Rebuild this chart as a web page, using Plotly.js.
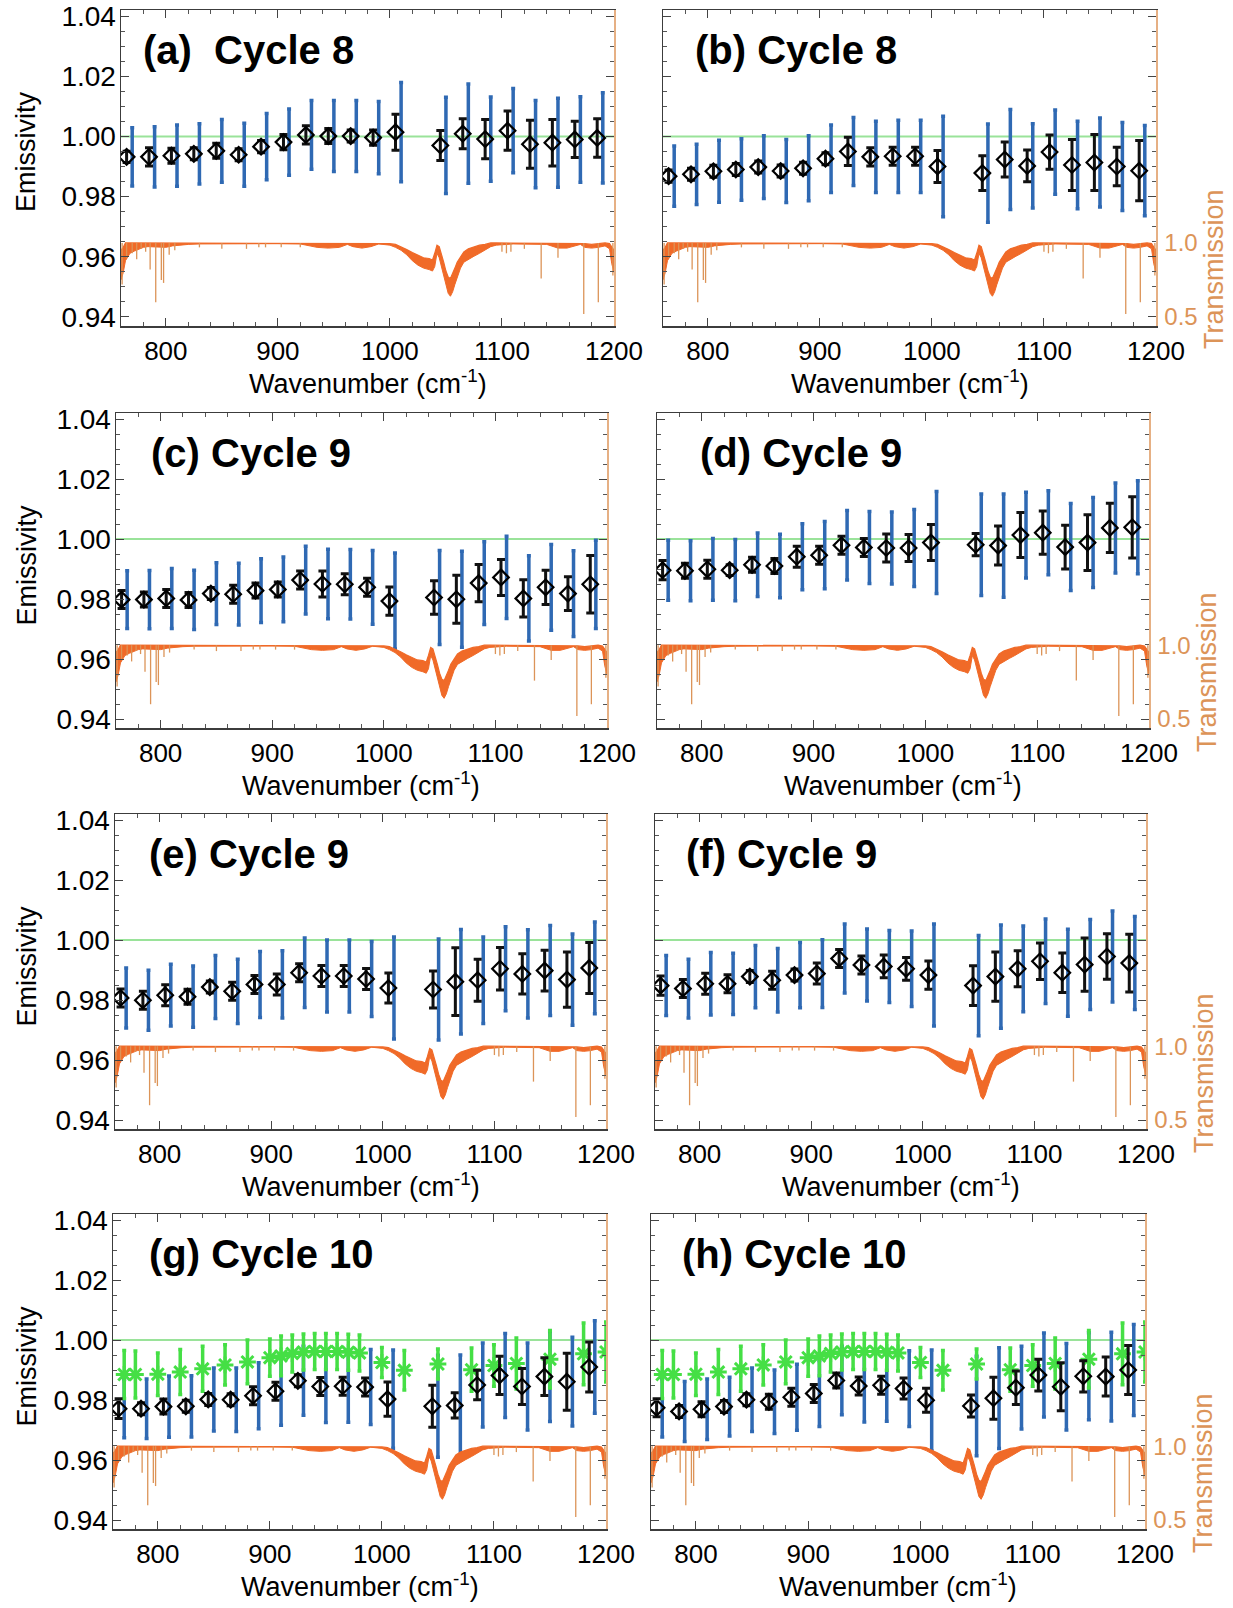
<!DOCTYPE html>
<html>
<head>
<meta charset="utf-8">
<script src="https://cdn.plot.ly/plotly-3.0.1.min.js"></script>
<style>
  html, body { margin: 0; padding: 0; background: #fff; }
  #chart { width: 1233px; height: 1608px; }
</style>
</head>
<body>
<div id="chart"></div>
<script>
// Retrieval wavenumbers (cm-1)
const wn = [765,785,805,825,845,865,885,905,925,945,965,985,1005,1045,1065,1085,1105,1125,1145,1165,1185];

// Retrieved emissivity, standard deviation (black) and total uncertainty (blue) per panel
const emisA = [0.9932,0.9932,0.9936,0.9942,0.9952,0.9939,0.9966,0.9981,1.0005,1.0001,1.0001,0.9996,1.0014,0.9970,1.0009,0.9991,1.0019,0.9974,0.9979,0.9990,0.9995];
const sdA   = [0.0019,0.0030,0.0025,0.0020,0.0025,0.0020,0.0020,0.0025,0.0030,0.0025,0.0020,0.0025,0.0060,0.0050,0.0050,0.0065,0.0065,0.0080,0.0077,0.0060,0.0064];
const uncA  = [0.0097,0.0100,0.0102,0.0100,0.0104,0.0105,0.0110,0.0110,0.0114,0.0118,0.0118,0.0120,0.0165,0.0160,0.0165,0.0140,0.0140,0.0145,0.0148,0.0142,0.0150];

const emisB = [0.9868,0.9874,0.9884,0.9890,0.9898,0.9885,0.9894,0.9926,0.9950,0.9932,0.9934,0.9934,0.9900,0.9878,0.9923,0.9902,0.9948,0.9905,0.9913,0.9900,0.9886];
const sdB   = [0.0020,0.0020,0.0020,0.0020,0.0020,0.0020,0.0020,0.0020,0.0047,0.0030,0.0030,0.0030,0.0053,0.0058,0.0058,0.0053,0.0057,0.0085,0.0093,0.0064,0.0100];
const uncB  = [0.0100,0.0100,0.0103,0.0102,0.0104,0.0105,0.0108,0.0112,0.0113,0.0118,0.0120,0.0120,0.0167,0.0163,0.0166,0.0140,0.0140,0.0145,0.0148,0.0146,0.0150];

const emisC = [0.9798,0.9798,0.9802,0.9797,0.9818,0.9816,0.9828,0.9832,0.9863,0.9850,0.9849,0.9839,0.9793,0.9805,0.9799,0.9853,0.9872,0.9802,0.9839,0.9818,0.9849];
const sdC   = [0.0030,0.0025,0.0030,0.0025,0.0020,0.0030,0.0025,0.0025,0.0030,0.0043,0.0035,0.0030,0.0047,0.0056,0.0080,0.0062,0.0060,0.0062,0.0057,0.0056,0.0096];
const uncC  = [0.0096,0.0097,0.0100,0.0099,0.0103,0.0103,0.0106,0.0108,0.0113,0.0116,0.0116,0.0123,0.0160,0.0157,0.0160,0.0138,0.0137,0.0142,0.0143,0.0143,0.0147];

const emisD = [0.9896,0.9894,0.9899,0.9896,0.9914,0.9910,0.9941,0.9946,0.9979,0.9972,0.9970,0.9970,0.9988,0.9981,0.9978,1.0013,1.0021,0.9973,0.9988,1.0037,1.0039];
const sdD   = [0.0032,0.0025,0.0030,0.0018,0.0025,0.0025,0.0035,0.0030,0.0030,0.0030,0.0047,0.0045,0.0060,0.0037,0.0065,0.0075,0.0072,0.0073,0.0093,0.0082,0.0102];
const uncD  = [0.0100,0.0100,0.0103,0.0102,0.0106,0.0106,0.0110,0.0112,0.0116,0.0120,0.0120,0.0128,0.0170,0.0169,0.0172,0.0143,0.0140,0.0145,0.0150,0.0150,0.0155];

const emisE = [0.9807,0.9799,0.9816,0.9811,0.9843,0.9829,0.9852,0.9852,0.9891,0.9880,0.9880,0.9870,0.9840,0.9835,0.9861,0.9866,0.9904,0.9887,0.9898,0.9868,0.9907];
const sdE   = [0.0030,0.0030,0.0035,0.0025,0.0020,0.0030,0.0030,0.0035,0.0030,0.0035,0.0035,0.0035,0.0050,0.0062,0.0113,0.0070,0.0071,0.0067,0.0068,0.0092,0.0085];
const uncE  = [0.0100,0.0100,0.0103,0.0102,0.0105,0.0107,0.0110,0.0112,0.0116,0.0120,0.0120,0.0125,0.0170,0.0168,0.0174,0.0144,0.0140,0.0147,0.0150,0.0152,0.0153];

const emisF = [0.9848,0.9838,0.9854,0.9854,0.9878,0.9866,0.9883,0.9888,0.9938,0.9917,0.9912,0.9904,0.9883,0.9848,0.9878,0.9904,0.9929,0.9891,0.9918,0.9945,0.9923];
const sdF   = [0.0032,0.0030,0.0035,0.0030,0.0020,0.0030,0.0020,0.0035,0.0030,0.0030,0.0038,0.0038,0.0047,0.0066,0.0082,0.0060,0.0061,0.0066,0.0089,0.0076,0.0096];
const uncF  = [0.0100,0.0098,0.0104,0.0102,0.0104,0.0106,0.0109,0.0113,0.0115,0.0120,0.0120,0.0126,0.0170,0.0167,0.0172,0.0143,0.0141,0.0145,0.0150,0.0152,0.0155];

const emisG = [0.9771,0.9771,0.9778,0.9779,0.9802,0.9801,0.9814,0.9829,0.9864,0.9845,0.9846,0.9843,0.9803,0.9779,0.9782,0.9850,0.9882,0.9845,0.9878,0.9861,0.9910];
const sdG   = [0.0033,0.0020,0.0025,0.0020,0.0020,0.0020,0.0030,0.0030,0.0020,0.0030,0.0030,0.0030,0.0057,0.0070,0.0042,0.0049,0.0064,0.0060,0.0063,0.0095,0.0083];
const uncG  = [0.0097,0.0099,0.0102,0.0102,0.0105,0.0106,0.0110,0.0113,0.0115,0.0120,0.0120,0.0125,0.0164,0.0170,0.0168,0.0140,0.0140,0.0145,0.0150,0.0148,0.0154];

const emisH = [0.9774,0.9762,0.9769,0.9778,0.9801,0.9794,0.9809,0.9822,0.9865,0.9847,0.9849,0.9838,0.9799,0.9780,0.9806,0.9841,0.9883,0.9844,0.9879,0.9878,0.9900];
const sdH   = [0.0030,0.0020,0.0025,0.0020,0.0020,0.0025,0.0030,0.0030,0.0025,0.0030,0.0030,0.0035,0.0040,0.0037,0.0070,0.0056,0.0053,0.0080,0.0052,0.0065,0.0082];
const uncH  = [0.0097,0.0100,0.0101,0.0098,0.0106,0.0106,0.0110,0.0110,0.0114,0.0120,0.0120,0.0126,0.0168,0.0166,0.0168,0.0138,0.0140,0.0144,0.0145,0.0148,0.0152];

// Comparison emissivity (green asterisks) shown in the Cycle 10 panels
const refWn   = [770,780,800,820,840,860,880,900,910,920,930,940,950,960,970,980,1000,1020,1050,1080,1100,1120,1150,1180,1200];
const refEmis = [0.9885,0.9885,0.9886,0.9893,0.9904,0.9917,0.9927,0.9941,0.9947,0.9955,0.9960,0.9962,0.9962,0.9962,0.9959,0.9957,0.9925,0.9899,0.9920,0.9901,0.9915,0.9922,0.9936,0.9954,0.9960];
const refErr  = [0.0080,0.0078,0.0071,0.0075,0.0075,0.0067,0.0073,0.0062,0.0066,0.0062,0.0060,0.0060,0.0060,0.0060,0.0060,0.0060,0.0050,0.0066,0.0050,0.0072,0.0069,0.0085,0.0096,0.0103,0.0100];

// Atmospheric transmission: upper and lower envelope of the line-by-line spectrum
const specWn  = [760,762,764,768,772,776,780,784,790,796,800,806,812,820,830,850,900,920,925,935,945,955,962,967,975,983,990,1000,1005,1010,1015,1020,1025,1030,1035,1038,1040,1042,1044,1046,1048,1050,1052,1054,1056,1058,1060,1063,1066,1070,1075,1080,1085,1090,1095,1110,1140,1145,1150,1158,1164,1170,1174,1180,1186,1192,1196,1198,1200];
const specTop = [0.95,0.97,1.0,1.0,1.0,1.0,1.0,1.0,1.0,1.0,1.0,1.0,1.0,1.0,1.0,1.0,1.0,1.0,1.0,1.0,0.995,1.0,1.0,1.0,0.995,1.0,1.0,0.995,0.99,0.975,0.955,0.935,0.915,0.90,0.895,0.885,0.93,0.985,0.975,0.93,0.87,0.81,0.77,0.76,0.79,0.83,0.87,0.91,0.94,0.96,0.975,0.985,0.99,1.0,1.0,1.0,1.0,1.0,0.995,0.995,1.0,1.0,0.995,0.99,0.995,1.0,0.995,0.97,0.95];
const specLow = [0.75,0.80,0.88,0.93,0.945,0.96,0.97,0.975,0.975,0.97,0.97,0.98,0.985,0.99,0.993,0.995,0.995,0.993,0.985,0.97,0.965,0.97,0.99,0.975,0.965,0.975,0.993,0.985,0.97,0.95,0.92,0.88,0.85,0.83,0.82,0.81,0.84,0.93,0.90,0.84,0.77,0.70,0.66,0.64,0.67,0.72,0.77,0.83,0.87,0.89,0.91,0.93,0.95,0.975,0.985,0.993,0.99,0.975,0.965,0.965,0.98,0.99,0.97,0.965,0.97,0.98,0.96,0.86,0.80];

// Narrow absorption lines: position and minimum transmission
const lineWn    = [761,765,770,774,778,782,786,791,796,798,803,808,830,850,872,883,889,903,920,1100,1104,1108,1120,1135,1150,1173,1186,1199];
const lineDepth = [0.72,0.90,0.93,0.89,0.96,0.94,0.82,0.60,0.75,0.73,0.92,0.95,0.97,0.96,0.96,0.97,0.97,0.97,0.97,0.94,0.93,0.94,0.96,0.76,0.90,0.52,0.60,0.78];

const xTicks = [800, 900, 1000, 1100, 1200];
const yTicks = [0.94, 0.96, 0.98, 1.00, 1.02, 1.04];
const tTicks = [0.5, 1.0];

// ---- layout constants (pixels) ----
const W = 1233, H = 1608;
const BLUE_SHIFT = 5;          // blue uncertainty bars drawn slightly right of the points
const FONT = 'Liberation Sans, Arial, sans-serif';
const ORANGE = '#f06a28';
const TAN = '#dc9458';
const BLUE = '#2f69b3';
const GREEN = '#45df45';

const panels = [
  {tag:'(a)\u00a0 Cycle 8', emis:emisA, sd:sdA, unc:uncA, box:[121,614,10,326],  tx:20, ey:-16, right:false, ref:false},
  {tag:'(b) Cycle 8',       emis:emisB, sd:sdB, unc:uncB, box:[663,1156,10,326], tx:30, ey:0, right:true,  ref:false},
  {tag:'(c) Cycle 9',       emis:emisC, sd:sdC, unc:uncC, box:[116,607,413,728], tx:33, ey:-5, right:false, ref:false},
  {tag:'(d) Cycle 9',       emis:emisD, sd:sdD, unc:uncD, box:[657,1149,413,728],tx:41, ey:0, right:true,  ref:false},
  {tag:'(e) Cycle 9',       emis:emisE, sd:sdE, unc:uncE, box:[115,606,814,1129],tx:32, ey:-5, right:false, ref:false},
  {tag:'(f) Cycle 9',       emis:emisF, sd:sdF, unc:uncF, box:[655,1146,814,1129],tx:29, ey:0, right:true, ref:false},
  {tag:'(g) Cycle 10',      emis:emisG, sd:sdG, unc:uncG, box:[113,606,1214,1529],tx:34, ey:-5, right:false, ref:true},
  {tag:'(h) Cycle 10',      emis:emisH, sd:sdH, unc:uncH, box:[651,1145,1214,1529],tx:29, ey:0, right:true, ref:true}
];

const px = v => v / W;
const py = v => 1 - v / H;

// vertical segments for the narrow lines
const lineX = [], lineY = [];
lineWn.forEach((w, i) => { lineX.push(w, w, null); lineY.push(1.0, lineDepth[i], null); });

const traces = [];
const layout = {
  width: W, height: H,
  margin: {l: 0, r: 0, t: 0, b: 0},
  paper_bgcolor: '#fff', plot_bgcolor: '#fff',
  showlegend: false,
  font: {family: FONT, color: '#000'},
  annotations: [], shapes: []
};

panels.forEach((p, k) => {
  const n = k + 1;
  const xa = 'x' + (n === 1 ? '' : n);
  const ya = 'y' + (n === 1 ? '' : n);
  const ta = 'y' + (n + 8);
  const [L, R, T, B] = p.box;

  layout['xaxis' + (n === 1 ? '' : n)] = {
    domain: [px(L), px(R)], anchor: ya,
    range: [760, 1200], tickvals: xTicks,
    ticks: 'inside', ticklen: 8, tickwidth: 1, tickcolor: '#444',
    minor: {ticks: 'inside', ticklen: 4, dtick: 20, tick0: 760, tickcolor: '#555', tickwidth: 1, showgrid: false},
    mirror: 'ticks', showline: true, linecolor: '#3c3c3c', linewidth: 1.5,
    showgrid: false, zeroline: false,
    ticklabelstandoff: 1,
    tickfont: {family: FONT, size: 26, color: '#000'}
  };
  layout['yaxis' + (n === 1 ? '' : n)] = {
    domain: [py(B), py(T)], anchor: xa,
    range: [0.937, 1.042], tickvals: yTicks, tickformat: '.2f',
    ticks: 'inside', ticklen: 8, tickwidth: 1, tickcolor: '#444',
    minor: {ticks: 'inside', ticklen: 4, dtick: 0.005, tick0: 0.94, tickcolor: '#555', tickwidth: 1, showgrid: false},
    mirror: 'ticks', showline: true, linecolor: '#3c3c3c', linewidth: 1.5,
    showgrid: false, zeroline: false,
    showticklabels: !p.right,
    ticklabelstandoff: -2,
    tickfont: {family: FONT, size: 28, color: '#000'}
  };
  layout['yaxis' + (n + 8)] = {
    overlaying: ya, anchor: xa, side: 'right',
    range: [0.439, 2.573], tickvals: tTicks, ticktext: ['0.5', '1.0'],
    ticks: '', showline: true, linecolor: '#e6b084', linewidth: 1.5,
    showgrid: false, zeroline: false,
    showticklabels: p.right,
    ticklabelstandoff: 2,
    tickfont: {family: FONT, size: 24, color: TAN}
  };

  // transmission spectrum
  traces.push({x: specWn, y: specTop, xaxis: xa, yaxis: ta, type: 'scatter', mode: 'lines',
    line: {color: ORANGE, width: 1.2}, hoverinfo: 'skip'});
  traces.push({x: specWn, y: specLow, xaxis: xa, yaxis: ta, type: 'scatter', mode: 'lines',
    line: {color: ORANGE, width: 1}, fill: 'tonexty', fillcolor: ORANGE, hoverinfo: 'skip'});
  traces.push({x: lineX, y: lineY, xaxis: xa, yaxis: ta, type: 'scatter', mode: 'lines',
    line: {color: TAN, width: 1.3}, connectgaps: false, hoverinfo: 'skip'});

  // total uncertainty
  traces.push({x: wn.map(v => v + BLUE_SHIFT), y: p.emis, xaxis: xa, yaxis: ya, type: 'scatter', mode: 'markers',
    marker: {size: 1, color: 'rgba(0,0,0,0)'},
    error_y: {type: 'data', array: p.unc, color: BLUE, thickness: 3.5, width: 2}});

  // comparison emissivity
  if (p.ref) {
    traces.push({x: refWn, y: refEmis, xaxis: xa, yaxis: ya, type: 'scatter', mode: 'markers',
      marker: {symbol: 'asterisk-open', size: 14, line: {color: GREEN, width: 3}, color: GREEN},
      error_y: {type: 'data', array: refErr, color: GREEN, thickness: 3.5, width: 2}});
  }

  // retrieved emissivity with standard deviation
  traces.push({x: wn, y: p.emis, xaxis: xa, yaxis: ya, type: 'scatter', mode: 'markers',
    marker: {symbol: 'diamond-open', size: 12, color: '#000', line: {color: '#000', width: 2.2}},
    error_y: {type: 'data', array: p.sd, color: '#111', thickness: 3, width: 4}});

  // unit-emissivity reference line
  layout.shapes.push({type: 'line', xref: xa + ' domain', x0: 0, x1: 1, yref: ya, y0: 1, y1: 1,
    line: {color: '#9ae39a', width: 2}, layer: 'below'});

  // panel tag
  layout.annotations.push({xref: 'paper', yref: 'paper', x: px(L + p.tx), y: py(T + 40),
    xanchor: 'left', yanchor: 'middle', showarrow: false,
    text: '<b>' + p.tag + '</b>', font: {family: FONT, size: 40, color: '#000'}});

  // x-axis title
  layout.annotations.push({xref: 'paper', yref: 'paper', x: px((L + R) / 2), y: py(B + 56),
    xanchor: 'center', yanchor: 'middle', showarrow: false,
    text: 'Wavenumber (cm<sup>-1</sup>)', font: {family: FONT, size: 27, color: '#000'}});

  if (!p.right) {
    layout.annotations.push({xref: 'paper', yref: 'paper', x: px(26), y: py((T + B) / 2 + p.ey),
      xanchor: 'center', yanchor: 'middle', showarrow: false, textangle: -90,
      text: 'Emissivity', font: {family: FONT, size: 27, color: '#000'}});
  } else {
    layout.annotations.push({xref: 'paper', yref: 'paper', x: px(R + 58), y: py(T + 259),
      xanchor: 'center', yanchor: 'middle', showarrow: false, textangle: -90,
      text: 'Transmission', font: {family: FONT, size: 27, color: TAN}});
  }
});

Plotly.newPlot('chart', traces, layout, {staticPlot: true, displayModeBar: false});
</script>
</body>
</html>
